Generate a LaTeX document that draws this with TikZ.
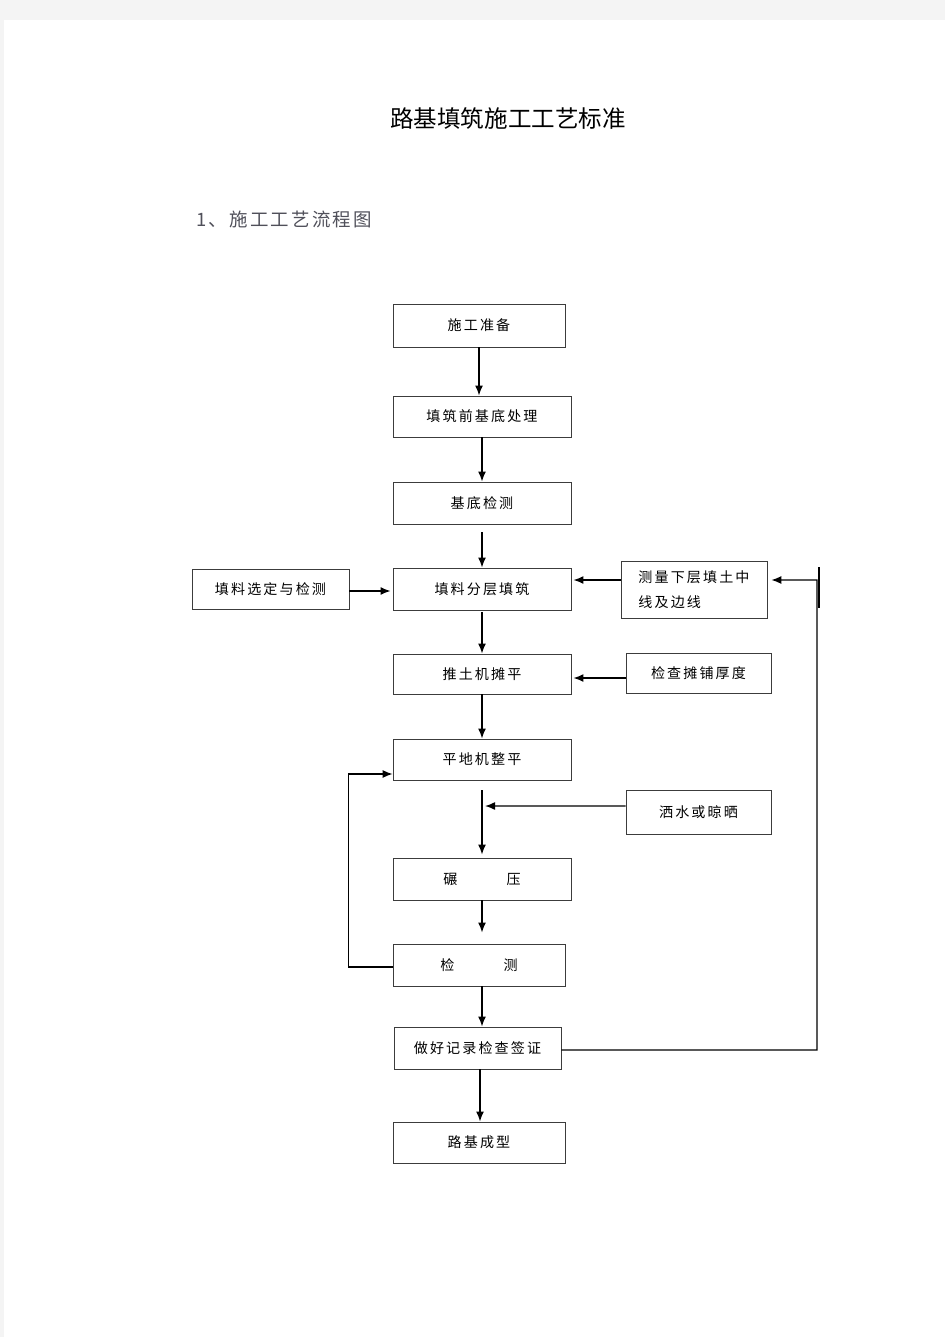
\documentclass[tikz,border=0pt]{standalone}
\usepackage{fontspec}
\newfontfamily\cjk[LetterSpace=15]{Noto Sans CJK SC}
\newfontfamily\cjktitre{Noto Sans CJK SC}
\newfontfamily\cjksous[LetterSpace=12]{Noto Sans CJK SC}
\usetikzlibrary{arrows.meta}

\begin{document}
\begin{tikzpicture}[x=0.02cm, y=-0.02cm]
            \definecolor{pagegris}{RGB}{244, 244, 244}
            \definecolor{bordgris}{RGB}{60, 60, 60}
            \definecolor{sousgris}{RGB}{80, 80, 90}
            \tikzstyle{etapes} = [rectangle,
            inner sep=0pt,
            text centered,
            draw=bordgris,
            line width=0.55pt,
            fill=white,
            font=\cjk\fontsize{8}{10}\selectfont]
            \tikzstyle{arrow} = [line width=0.8pt,-{Latex[length=2mm,width=1.6mm]},black]
            \tikzstyle{ligne} = [line width=0.8pt,black]
            % page
            \fill[pagegris] (0,0) rectangle (945,1337);
            \fill[white] (4,20) rectangle (945,1337);
            \useasboundingbox (0,0) rectangle (945,1337);

            \node (titre) at (508,119) {\cjktitre\fontsize{13.4}{15}\selectfont 路基填筑施工工艺标准};
            \node (soustitre)[anchor=west, inner sep=0pt, text=sousgris] at (196,219) {\cjksous\fontsize{10.5}{12}\selectfont 1、施工工艺流程图};

            \node (etape1)[etapes, minimum width=3.44cm, minimum height=0.86cm] at (479,325.5) {施工准备};
            \node (etape2)[etapes, minimum width=3.56cm, minimum height=0.82cm] at (482,416.5) {填筑前基底处理};
            \node (etape3)[etapes, minimum width=3.56cm, minimum height=0.84cm] at (482,503) {基底检测};
            \node (etape4)[etapes, minimum width=3.56cm, minimum height=0.84cm] at (482,589) {填料分层填筑};
            \node (choix)[etapes, minimum width=3.14cm, minimum height=0.80cm] at (270.5,589) {填料选定与检测};
            \node (mesure)[etapes, minimum width=2.92cm, minimum height=1.14cm, align=left] at (694,589.5) {测量下层填土中\\[4pt]线及边线};
            \node (etape5)[etapes, minimum width=3.56cm, minimum height=0.80cm] at (482,674) {推土机摊平};
            \node (epaisseur)[etapes, minimum width=2.90cm, minimum height=0.80cm] at (698.5,673) {检查摊铺厚度};
            \node (etape6)[etapes, minimum width=3.56cm, minimum height=0.82cm] at (482,759.5) {平地机整平};
            \node (arrosage)[etapes, minimum width=2.90cm, minimum height=0.88cm] at (698.5,812) {洒水或晾晒};
            \node (etape7)[etapes, minimum width=3.56cm, minimum height=0.84cm] at (482,879) {碾\hspace{28pt}压};
            \node (etape8)[etapes, minimum width=3.44cm, minimum height=0.84cm] at (479,965) {检\hspace{28pt}测};
            \node (etape9)[etapes, minimum width=3.34cm, minimum height=0.84cm] at (477.5,1048) {做好记录检查签证};
            \node (etape10)[etapes, minimum width=3.44cm, minimum height=0.82cm] at (479,1142.5) {路基成型};

            \coordinate (jonction) at (485,806);
            \coordinate (retour) at (817,580);

            \draw [arrow] (etape1) -- (etape1 |- etape2.north);
            \draw [arrow] (etape2) -- (etape3);
            \draw [arrow, shorten <=0.16cm] (etape3) -- (etape4);
            \draw [arrow, shorten >=0.04cm] ([yshift=-0.04cm]choix.east) -- ([yshift=-0.04cm]choix.east -| etape4.west);
            \draw [arrow, shorten >=0.04cm] ([yshift=0.19cm]mesure.west) -- ([yshift=0.19cm]mesure.west -| etape4.east);
            \draw [arrow, shorten <=0.04cm] (etape4) -- (etape5);
            \draw [arrow, shorten >=0.04cm] ([yshift=-0.1cm]epaisseur.west) -- ([yshift=-0.1cm]epaisseur.west -| etape5.east);
            \draw [arrow] (etape5) -- (etape6);
            \draw [arrow, shorten <=0.2cm, shorten >=0.06cm] (etape6) -- (etape7);
            \draw [arrow] ([yshift=0.12cm]arrosage.west) -- (jonction);
            \draw [arrow, shorten >=0.22cm] (etape7) -- (etape7 |- etape8.north);
            \draw [arrow] ([xshift=0.06cm]etape8.south) -- ([xshift=0.06cm]etape8.south |- etape9.north);
            \draw [arrow] ([xshift=0.05cm]etape9.south) -- ([xshift=0.05cm]etape9.south |- etape10.north);
            % boucles de retour
            \draw [arrow, line width=0.6pt] ([yshift=-0.04cm]etape8.west) -- ++(-44,0) |- ([yshift=-0.29cm]etape6.west);
            \draw [arrow, line width=0.6pt, shorten >=0.08cm] ([yshift=-0.04cm]etape9.east) -| (retour) -- ([yshift=0.19cm]mesure.east);
            \draw [ligne] (819,567) -- (819,608);
        \end{tikzpicture}
\end{document}
